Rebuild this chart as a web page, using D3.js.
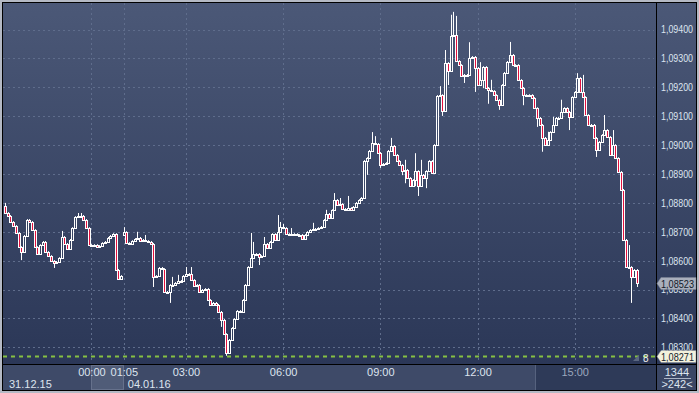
<!DOCTYPE html>
<html>
<head>
<meta charset="utf-8">
<script src="https://cdn.jsdelivr.net/npm/d3@7"></script>
<style>
html, body { margin: 0; padding: 0; background: #b4b9c4; overflow: hidden; }
svg { display: block; font-family: "Liberation Sans", Arial, sans-serif; }
</style>
</head>
<body>
<svg id="chart" width="699" height="393"></svg>
<script>
// EURUSD 5 min candles, 31.12.15 late session + 04.01.16
const closes = [
  1.08765, 1.08755, 1.08734, 1.08720, 1.08696, 1.08647, 1.08630, 1.08686, 1.08741, 1.08734,
  1.08706, 1.08647, 1.08623, 1.08654, 1.08665, 1.08630, 1.08616, 1.08599, 1.08592, 1.08596,
  1.08609, 1.08682, 1.08658, 1.08641, 1.08672, 1.08713, 1.08751, 1.08755, 1.08755, 1.08741,
  1.08713, 1.08654, 1.08651, 1.08654, 1.08647, 1.08651, 1.08661, 1.08665, 1.08679, 1.08686,
  1.08692, 1.08568, 1.08537, 1.08547, 1.08699, 1.08661, 1.08658, 1.08668, 1.08675, 1.08679,
  1.08668, 1.08672, 1.08668, 1.08665, 1.08658, 1.08544, 1.08547, 1.08575, 1.08571, 1.08492,
  1.08492, 1.08516, 1.08516, 1.08523, 1.08530, 1.08530, 1.08547, 1.08554, 1.08554, 1.08533,
  1.08513, 1.08516, 1.08492, 1.08499, 1.08502, 1.08464, 1.08447, 1.08454, 1.08447, 1.08423,
  1.08395, 1.08346, 1.08281, 1.08326, 1.08367, 1.08398, 1.08426, 1.08423, 1.08464, 1.08516,
  1.08578, 1.08609, 1.08623, 1.08623, 1.08613, 1.08616, 1.08658, 1.08644, 1.08665, 1.08692,
  1.08672, 1.08699, 1.08717, 1.08713, 1.08692, 1.08689, 1.08692, 1.08692, 1.08689, 1.08689,
  1.08675, 1.08689, 1.08699, 1.08706, 1.08710, 1.08710, 1.08713, 1.08717, 1.08741, 1.08762,
  1.08748, 1.08775, 1.08810, 1.08793, 1.08796, 1.08779, 1.08775, 1.08782, 1.08775, 1.08786,
  1.08800, 1.08810, 1.08817, 1.08945, 1.08955, 1.08980, 1.09007, 1.09004, 1.08973, 1.08931,
  1.08935, 1.08938, 1.08980, 1.08997, 1.08966, 1.08945, 1.08931, 1.08910, 1.08914, 1.08886,
  1.08859, 1.08879, 1.08910, 1.08859, 1.08897, 1.08886, 1.08910, 1.08945, 1.08904, 1.09000,
  1.09170, 1.09173, 1.09118, 1.09284, 1.09256, 1.09378, 1.09381, 1.09291, 1.09277, 1.09239,
  1.09243, 1.09243, 1.09301, 1.09305, 1.09267, 1.09208, 1.09225, 1.09270, 1.09198, 1.09191,
  1.09187, 1.09173, 1.09156, 1.09139, 1.09208, 1.09250, 1.09288, 1.09312, 1.09277, 1.09277,
  1.09225, 1.09198, 1.09173, 1.09173, 1.09173, 1.09163, 1.09128, 1.09094, 1.09070, 1.09025,
  1.09000, 1.09018, 1.09045, 1.09070, 1.09094, 1.09094, 1.09115, 1.09128, 1.09115, 1.09097,
  1.09166, 1.09184, 1.09232, 1.09184, 1.09166, 1.09104, 1.09070, 1.09070, 1.09025, 1.08983,
  1.09011, 1.09035, 1.09052, 1.09028, 1.08966, 1.09000, 1.08955, 1.08907, 1.08845, 1.08672,
  1.08578, 1.08578, 1.08544, 1.08568, 1.08523
];

// opens of the first candle of each session [index, open]
const sessionOpens = [[0, 1.08790], [44, 1.08690]];

// wick lengths in pipettes beyond the body [index, up, down]; others are short
const longWicks = [
  [0, 10, 3], [6, 3, 28], [18, 3, 17], [21, 21, 3], [27, 10, 3], [28, 10, 3], [44, 17, 3],
  [49, 21, 3], [52, 17, 3], [55, 3, 35], [61, 3, 38], [62, 28, 3], [64, 21, 3], [67, 24, 3],
  [69, 24, 3], [80, 3, 24], [82, 3, 10], [91, 87, 3], [92, 42, 3], [94, 3, 28], [96, 24, 3],
  [101, 59, 3], [102, 17, 3], [103, 10, 3], [106, 21, 3], [114, 21, 3], [119, 14, 3],
  [122, 24, 3], [124, 21, 3], [127, 42, 3], [134, 3, 48], [136, 38, 3], [137, 24, 3],
  [139, 3, 10], [143, 28, 3], [147, 3, 14], [148, 35, 42], [152, 62, 21], [153, 3, 35],
  [154, 52, 3], [156, 3, 35], [161, 31, 3], [162, 3, 17], [163, 45, 3], [164, 3, 48],
  [165, 73, 3], [166, 80, 3], [167, 66, 3], [170, 3, 24], [172, 55, 3], [174, 3, 83],
  [176, 62, 3], [177, 3, 28], [179, 3, 48], [180, 35, 3], [183, 3, 17], [187, 45, 3],
  [192, 3, 35], [197, 3, 31], [199, 3, 48], [201, 28, 3], [203, 28, 3], [206, 42, 3],
  [209, 3, 45], [212, 17, 3], [214, 59, 3], [219, 3, 24], [222, 52, 3], [225, 52, 3],
  [231, 76, 3], [232, 3, 90], [234, 3, 14]
];
const shortWick = 3;

const priceTicks = [1.083, 1.084, 1.085, 1.086, 1.087, 1.088, 1.089, 1.090, 1.091, 1.092, 1.093, 1.094];
const timeTickIdx = [32, 44, 67, 103, 139, 175, 211];
const timeTickLabels = ['00:00', '01:05', '03:00', '06:00', '09:00', '12:00', '15:00'];
const dateIdx = [0, 44];
const dateLabels = ['31.12.15', '04.01.16'];
const barCount = '1344';
const visibleCount = '>242<';

const W = 699, H = 393;
const plot = {left: 3, top: 3, right: 656, bottom: 364};
const navStart = 535;
const priceLabelWidth = 32;

let svg = d3.select('#chart');
let fmt = v => d3.format('.5f')(v).replace('.', ',');

let x = d3.scaleLinear().domain([0, closes.length - 1]).range([5, 636.8]);
let y = d3.scaleLinear().domain([1.083, 1.094]).range([347.4, 29.5]);

// build candles
let openMap = new Map(sessionOpens);
let wickMap = new Map(longWicks.map(d => [d[0], d.slice(1)]));
let candles = closes.map((c, i) => {
  let o = openMap.has(i) ? openMap.get(i) : closes[i - 1];
  let w = wickMap.get(i) || [shortWick, shortWick];
  return {
    i: i, open: o, close: c,
    high: Math.max(o, c) + w[0] * 1e-5,
    low: Math.min(o, c) - w[1] * 1e-5
  };
});

// frame and backgrounds
let defs = svg.append('defs');
let grad = defs.append('linearGradient').attr('id', 'bg')
  .attr('gradientUnits', 'userSpaceOnUse')
  .attr('x1', 0).attr('y1', plot.top).attr('x2', 0).attr('y2', plot.bottom);
grad.append('stop').attr('offset', 0).attr('stop-color', '#4b5877');
grad.append('stop').attr('offset', 1).attr('stop-color', '#2b3757');

svg.append('rect').attr('width', W).attr('height', H).attr('fill', '#b4b9c4');
svg.append('rect').attr('x', 2).attr('y', 2).attr('width', W - 4).attr('height', H - 4).attr('fill', '#000');
svg.append('rect').attr('x', plot.left).attr('y', plot.top)
  .attr('width', plot.right - plot.left).attr('height', plot.bottom - plot.top).attr('fill', 'url(#bg)');
svg.append('rect').attr('x', plot.right + 1).attr('y', plot.top)
  .attr('width', W - 3 - plot.right - 1).attr('height', plot.bottom - plot.top).attr('fill', 'url(#bg)');
svg.append('rect').attr('x', plot.left).attr('y', plot.bottom + 1)
  .attr('width', plot.right - plot.left).attr('height', H - 3 - plot.bottom - 1).attr('fill', '#3e4a68');
svg.append('rect').attr('x', navStart).attr('y', plot.bottom + 1)
  .attr('width', plot.right - navStart).attr('height', H - 3 - plot.bottom - 1).attr('fill', '#2e3a58');
svg.append('line').attr('x1', navStart + 0.5).attr('x2', navStart + 0.5)
  .attr('y1', plot.bottom + 1).attr('y2', H - 3).attr('stroke', '#56627e');
svg.append('rect').attr('x', plot.right + 1).attr('y', plot.bottom + 1)
  .attr('width', W - 3 - plot.right - 1).attr('height', H - 3 - plot.bottom - 1).attr('fill', '#3a4664');

// session gap box on the time axis
svg.append('rect')
  .attr('x', Math.round(x(timeTickIdx[0])) + 0.5).attr('y', plot.bottom + 1.5)
  .attr('width', Math.round(x(timeTickIdx[1]) - x(timeTickIdx[0])))
  .attr('height', H - 4 - plot.bottom - 1)
  .attr('fill', '#505c78').attr('stroke', '#66718c');

// grid
let grid = svg.append('g').attr('stroke', '#5f6d8c').attr('stroke-dasharray', '2,3');
grid.selectAll('line.h').data(priceTicks).join('line')
  .attr('x1', plot.left).attr('x2', plot.right - 2)
  .attr('y1', d => Math.round(y(d)) + 0.5).attr('y2', d => Math.round(y(d)) + 0.5);
grid.selectAll('line.v').data(timeTickIdx).join('line')
  .attr('x1', d => Math.round(x(d)) + 0.5).attr('x2', d => Math.round(x(d)) + 0.5)
  .attr('y1', plot.top).attr('y2', plot.bottom - 2);

// candles
let cg = svg.append('g');
cg.selectAll('line.wick').data(candles).join('line')
  .attr('x1', d => Math.round(x(d.i)) + 0.5).attr('x2', d => Math.round(x(d.i)) + 0.5)
  .attr('y1', d => y(d.high)).attr('y2', d => y(d.low))
  .attr('stroke', '#fff').attr('stroke-width', 1);
cg.selectAll('rect.body').data(candles).join('rect')
  .attr('x', d => Math.round(x(d.i)) - 0.5)
  .attr('y', d => Math.round(y(Math.max(d.open, d.close))) + 0.5)
  .attr('width', 2)
  .attr('height', d => Math.max(1, Math.round(y(Math.min(d.open, d.close))) - Math.round(y(Math.max(d.open, d.close)))))
  .attr('fill', d => d.close < d.open ? '#e2103e' : 'url(#bg)')
  .attr('stroke', '#fff').attr('stroke-width', 1);

// low marker line
let minLow = d3.min(candles, d => d.low);
let lastClose = closes[closes.length - 1];
svg.append('line')
  .attr('x1', plot.left).attr('x2', plot.right)
  .attr('y1', Math.round(y(minLow)) + 0.5).attr('y2', Math.round(y(minLow)) + 0.5)
  .attr('stroke', '#86c043').attr('stroke-width', 2).attr('stroke-dasharray', '4,4');

// right price axis
let yAxis = d3.axisRight(y).tickValues(priceTicks).tickFormat(fmt).tickSize(0).tickPadding(4);
let ya = svg.append('g').attr('transform', `translate(${plot.right + 1},0)`).call(yAxis);
ya.select('.domain').remove();
ya.selectAll('text').attr('fill', '#dde4ef').style('font-size', '10.5px')
  .attr('textLength', priceLabelWidth).attr('lengthAdjust', 'spacingAndGlyphs')
  .style('font-family', '"Liberation Sans", Arial, sans-serif');

// price markers
function marker(value, fill) {
  let yy = Math.round(y(value)) + 0.5;
  let g = svg.append('g');
  g.append('path')
    .attr('d', `M${plot.right + 1},${yy} L${plot.right + 5},${yy - 6} H${W - 3} V${yy + 6} H${plot.right + 5} Z`)
    .attr('fill', fill).attr('stroke', '#7c8494').attr('stroke-width', 0.5);
  g.append('text').attr('x', plot.right + 5).attr('y', yy + 4)
    .attr('textLength', priceLabelWidth + 1).attr('lengthAdjust', 'spacingAndGlyphs')
    .attr('fill', '#121a2a').style('font-size', '10.5px').text(fmt(value));
}
marker(lastClose, '#a9afbc');
marker(minLow, '#f3f1dc');

// time axis
let xAxis = d3.axisBottom(x).tickValues(timeTickIdx)
  .tickFormat((d, k) => timeTickLabels[k]).tickSize(0).tickPadding(3);
let xa = svg.append('g').attr('transform', `translate(0,${plot.bottom + 1})`).call(xAxis);
xa.select('.domain').remove();
xa.selectAll('text')
  .attr('fill', d => x(d) > navStart ? '#9ba7bd' : '#dde4ef')
  .style('font-size', '11px').style('font-family', '"Liberation Sans", Arial, sans-serif');

svg.append('g').selectAll('text').data(dateIdx).join('text')
  .attr('x', d => x(d) + 4).attr('y', 388)
  .attr('fill', '#dde4ef').style('font-size', '11px')
  .text((d, k) => dateLabels[k]);

// counters, bottom right
svg.append('text').attr('x', 677).attr('y', 376).attr('text-anchor', 'middle')
  .attr('fill', '#dde4ef').style('font-size', '11px').text(barCount);
svg.append('line').attr('x1', 664).attr('x2', 691).attr('y1', 378.5).attr('y2', 378.5)
  .attr('stroke', '#aab3c4');
svg.append('text').attr('x', 677).attr('y', 388).attr('text-anchor', 'middle')
  .attr('fill', '#dde4ef').style('font-size', '11px').text(visibleCount);

svg.append('path').attr('d', 'M633,361 L639,355 L639,361 Z').attr('fill', '#5a6680');
svg.append('text').attr('x', 643).attr('y', 362)
  .attr('fill', '#f0f0f0').style('font-size', '10px').text('8');
</script>
</body>
</html>
